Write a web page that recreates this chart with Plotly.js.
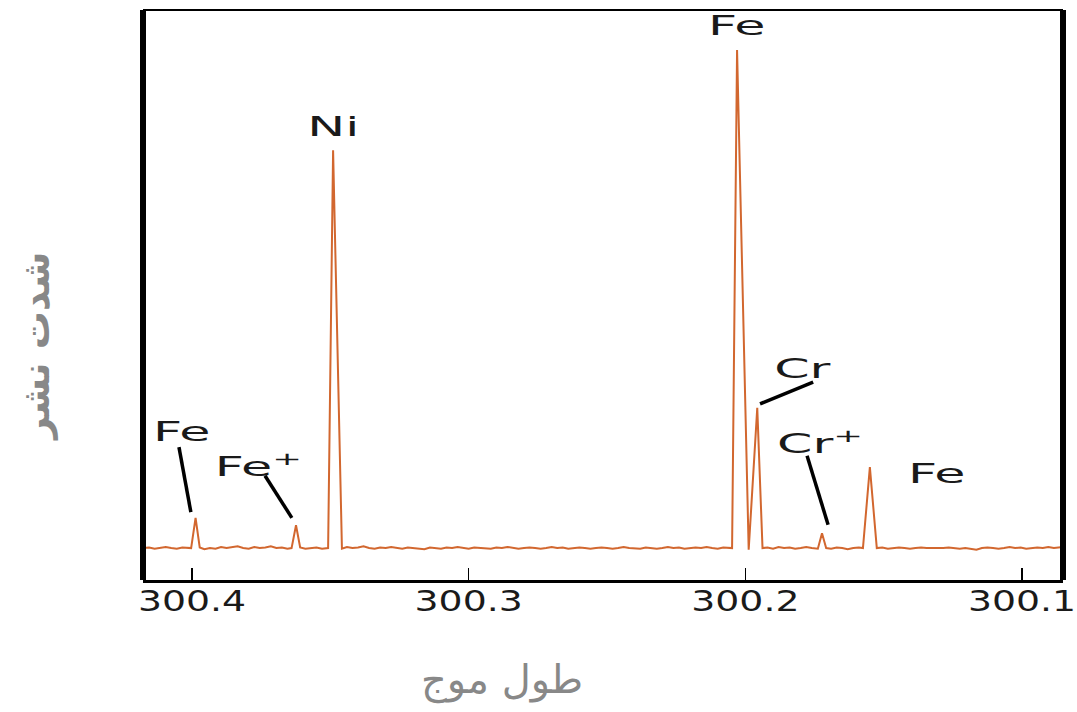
<!DOCTYPE html>
<html>
<head>
<meta charset="utf-8">
<script src="https://cdn.plot.ly/plotly-3.0.1.min.js"></script>
<style>
  html, body { margin: 0; padding: 0; background: #fff; }
  #chart { width: 1077px; height: 712px; }
  g.xtick {
    transform-box: fill-box; transform-origin: center; transform: scaleX(1.35);
  }
  .annotation[data-index="0"] .annotation-text,
  .annotation[data-index="1"] .annotation-text,
  .annotation[data-index="2"] .annotation-text,
  .annotation[data-index="3"] .annotation-text,
  .annotation[data-index="4"] .annotation-text,
  .annotation[data-index="5"] .annotation-text,
  .annotation[data-index="6"] .annotation-text {
    transform-box: fill-box; transform-origin: center; transform: scaleX(1.95);
  }
</style>
</head>
<body>
<div id="chart"></div>
<script>
// Wavelength (nm), descending, and emission intensity (arbitrary units)
const wavelength = [
  300.4177, 300.4155, 300.4135, 300.4115, 300.4095, 300.4075, 300.4055, 300.4035, 300.4015, 300.4003,
  300.3987, 300.3972, 300.3955, 300.3935, 300.3915, 300.3895, 300.3875, 300.3855, 300.3835, 300.3815,
  300.3795, 300.3775, 300.3755, 300.3735, 300.3715, 300.3695, 300.3675, 300.3655, 300.3640, 300.3624,
  300.3609, 300.3590, 300.3570, 300.3550, 300.3530, 300.3508, 300.3490, 300.3458, 300.3440, 300.3420,
  300.3400, 300.3380, 300.3360, 300.3340, 300.3320, 300.3300, 300.3280, 300.3260, 300.3240, 300.3220,
  300.3200, 300.3180, 300.3160, 300.3140, 300.3120, 300.3100, 300.3080, 300.3060, 300.3040, 300.3020,
  300.3000, 300.2980, 300.2960, 300.2940, 300.2920, 300.2900, 300.2880, 300.2860, 300.2840, 300.2820,
  300.2800, 300.2780, 300.2760, 300.2740, 300.2720, 300.2700, 300.2680, 300.2660, 300.2640, 300.2620,
  300.2600, 300.2580, 300.2560, 300.2540, 300.2520, 300.2500, 300.2480, 300.2460, 300.2440, 300.2420,
  300.2400, 300.2380, 300.2360, 300.2340, 300.2320, 300.2300, 300.2280, 300.2260, 300.2240, 300.2220,
  300.2200, 300.2180, 300.2160, 300.2140, 300.2120, 300.2100, 300.2080, 300.2060, 300.2048, 300.2030,
  300.1988, 300.1957, 300.1938, 300.1920, 300.1900, 300.1880, 300.1860, 300.1840, 300.1820, 300.1800,
  300.1780, 300.1760, 300.1738, 300.1723, 300.1708, 300.1690, 300.1670, 300.1650, 300.1630, 300.1610,
  300.1590, 300.1575, 300.1550, 300.1525, 300.1505, 300.1485, 300.1465, 300.1445, 300.1425, 300.1405,
  300.1385, 300.1365, 300.1345, 300.1325, 300.1305, 300.1285, 300.1265, 300.1245, 300.1225, 300.1205,
  300.1185, 300.1165, 300.1145, 300.1125, 300.1105, 300.1085, 300.1065, 300.1045, 300.1025, 300.1005,
  300.0985, 300.0965, 300.0945, 300.0925, 300.0905, 300.0885, 300.0865, 300.0852
];
const intensity = [
  5.6, 5.7, 5.5, 5.6, 5.8, 5.6, 5.5, 5.7, 5.6, 5.6,
  10.9, 5.7, 5.4, 5.6, 5.5, 5.8, 5.6, 5.7, 5.9, 5.6,
  5.5, 5.8, 5.6, 5.7, 5.9, 5.6, 5.7, 5.5, 5.6, 9.6,
  5.7, 5.5, 5.6, 5.7, 5.5, 5.6, 75.4, 5.5, 5.8, 5.6,
  5.7, 5.9, 5.6, 5.5, 5.7, 5.6, 5.8, 5.6, 5.5, 5.7,
  5.6, 5.6, 5.4, 5.7, 5.6, 5.5, 5.7, 5.6, 5.8, 5.6,
  5.5, 5.7, 5.6, 5.6, 5.5, 5.7, 5.6, 5.8, 5.6, 5.5,
  5.6, 5.7, 5.6, 5.5, 5.6, 5.8, 5.6, 5.7, 5.5, 5.6,
  5.7, 5.6, 5.5, 5.6, 5.7, 5.6, 5.5, 5.6, 5.8, 5.6,
  5.6, 5.5, 5.7, 5.6, 5.5, 5.6, 5.8, 5.6, 5.7, 5.5,
  5.6, 5.7, 5.6, 5.8, 5.6, 5.5, 5.7, 5.6, 5.6, 93.0,
  5.3, 30.2, 5.6, 5.7, 5.5, 5.8, 5.6, 5.7, 5.5, 5.6,
  5.8, 5.6, 5.5, 8.2, 5.6, 5.5, 5.7, 5.6, 5.4, 5.6,
  5.7, 5.6, 19.8, 5.6, 5.7, 5.5, 5.6, 5.7, 5.6, 5.5,
  5.6, 5.7, 5.6, 5.6, 5.5, 5.6, 5.7, 5.6, 5.5, 5.6,
  5.5, 5.3, 5.6, 5.7, 5.6, 5.5, 5.6, 5.8, 5.6, 5.7,
  5.5, 5.6, 5.7, 5.6, 5.8, 5.6, 5.7, 5.8
];
// Axis ticks
const tickValues = [300.4, 300.3, 300.2, 300.1];
const tickLabels = ['300.4', '300.3', '300.2', '300.1'];
// Peak labels: text, label position (wavelength, intensity)
const peakLabels = ['Fe', 'Ni', 'Cr', 'Cr<sup>+</sup>', 'Fe', 'Fe', 'Fe<sup>+</sup>'];
const labelX = [300.2029, 300.3490, 300.1792, 300.1730, 300.1307, 300.4036, 300.3761];
const labelY = [97.2, 79.5, 37.0, 24.2, 18.6, 26.0, 20.2];
// Leader lines from label to peak
const leaderX0 = [300.4047, 300.3736, 300.1755, 300.1777];
const leaderY0 = [23.3, 18.3, 34.7, 21.8];
const leaderX1 = [300.4004, 300.3639, 300.1947, 300.1701];
const leaderY1 = [11.9, 10.9, 30.9, 9.7];
const xTitle = 'طول موج';
const yTitle = 'شدت نشر';

const trace = {
  x: wavelength, y: intensity, type: 'scatter', mode: 'lines',
  line: { color: '#d2672f', width: 2 }, hoverinfo: 'skip'
};

const L = 143, R = 14, T = 10, B = 132, W = 1077, H = 712;
const pw = W - L - R, ph = H - T - B;

const annotations = peakLabels.map((t, i) => ({
  text: t, x: labelX[i], y: labelY[i], xref: 'x', yref: 'y',
  showarrow: false, xanchor: 'center', yanchor: 'middle',
  font: { family: 'DejaVu Sans, Arial, sans-serif', size: 26, color: '#1a1a1a' }
}));
annotations.push({
  text: xTitle, x: (502 - L) / pw, y: (H - B - 680) / ph, xref: 'paper', yref: 'paper',
  xanchor: 'center', yanchor: 'middle', showarrow: false,
  font: { family: 'DejaVu Sans, Noto Sans, sans-serif', size: 40, color: '#888' }
});
annotations.push({
  text: '<b>' + yTitle + '</b>', textangle: -90, x: (36 - L) / pw, y: (H - B - 347) / ph,
  xref: 'paper', yref: 'paper', xanchor: 'center', yanchor: 'middle', showarrow: false,
  font: { family: 'DejaVu Sans, Noto Sans, sans-serif', size: 38, color: '#888' }
});

const shapes = [
  { type: 'line', xref: 'paper', yref: 'paper', x0: 0, x1: 0, y0: 0, y1: 1, line: { color: '#000', width: 6 } },
  { type: 'line', xref: 'paper', yref: 'paper', x0: 1, x1: 1, y0: 0, y1: 1, line: { color: '#000', width: 6 } },
  { type: 'line', xref: 'paper', yref: 'paper', x0: 0, x1: 1, y0: 1, y1: 1, line: { color: '#000', width: 2 } }
];
leaderX0.forEach((_, i) => shapes.push({
  type: 'line', xref: 'x', yref: 'y',
  x0: leaderX0[i], y0: leaderY0[i], x1: leaderX1[i], y1: leaderY1[i],
  line: { color: '#000', width: 3.5 }
}));

const layout = {
  width: W, height: H,
  margin: { l: L, r: R, t: T, b: B, pad: 0 },
  paper_bgcolor: '#fff', plot_bgcolor: '#fff',
  showlegend: false,
  xaxis: {
    range: [300.4177, 300.0852], tickvals: tickValues, ticktext: tickLabels,
    ticks: 'inside', ticklen: 12, tickwidth: 1.5, tickcolor: '#000',
    showline: true, linewidth: 3, linecolor: '#000',
    showgrid: false, zeroline: false, ticklabeloverflow: 'allow', ticklabelstandoff: -6,
    tickfont: { family: 'DejaVu Sans, Arial, sans-serif', size: 28, color: '#1a1a1a' }
  },
  yaxis: {
    range: [0, 100], showticklabels: false, ticks: '', showgrid: false, zeroline: false, showline: false
  },
  annotations: annotations,
  shapes: shapes
};

Plotly.newPlot('chart', [trace], layout, { staticPlot: true, displayModeBar: false });
</script>
</body>
</html>
